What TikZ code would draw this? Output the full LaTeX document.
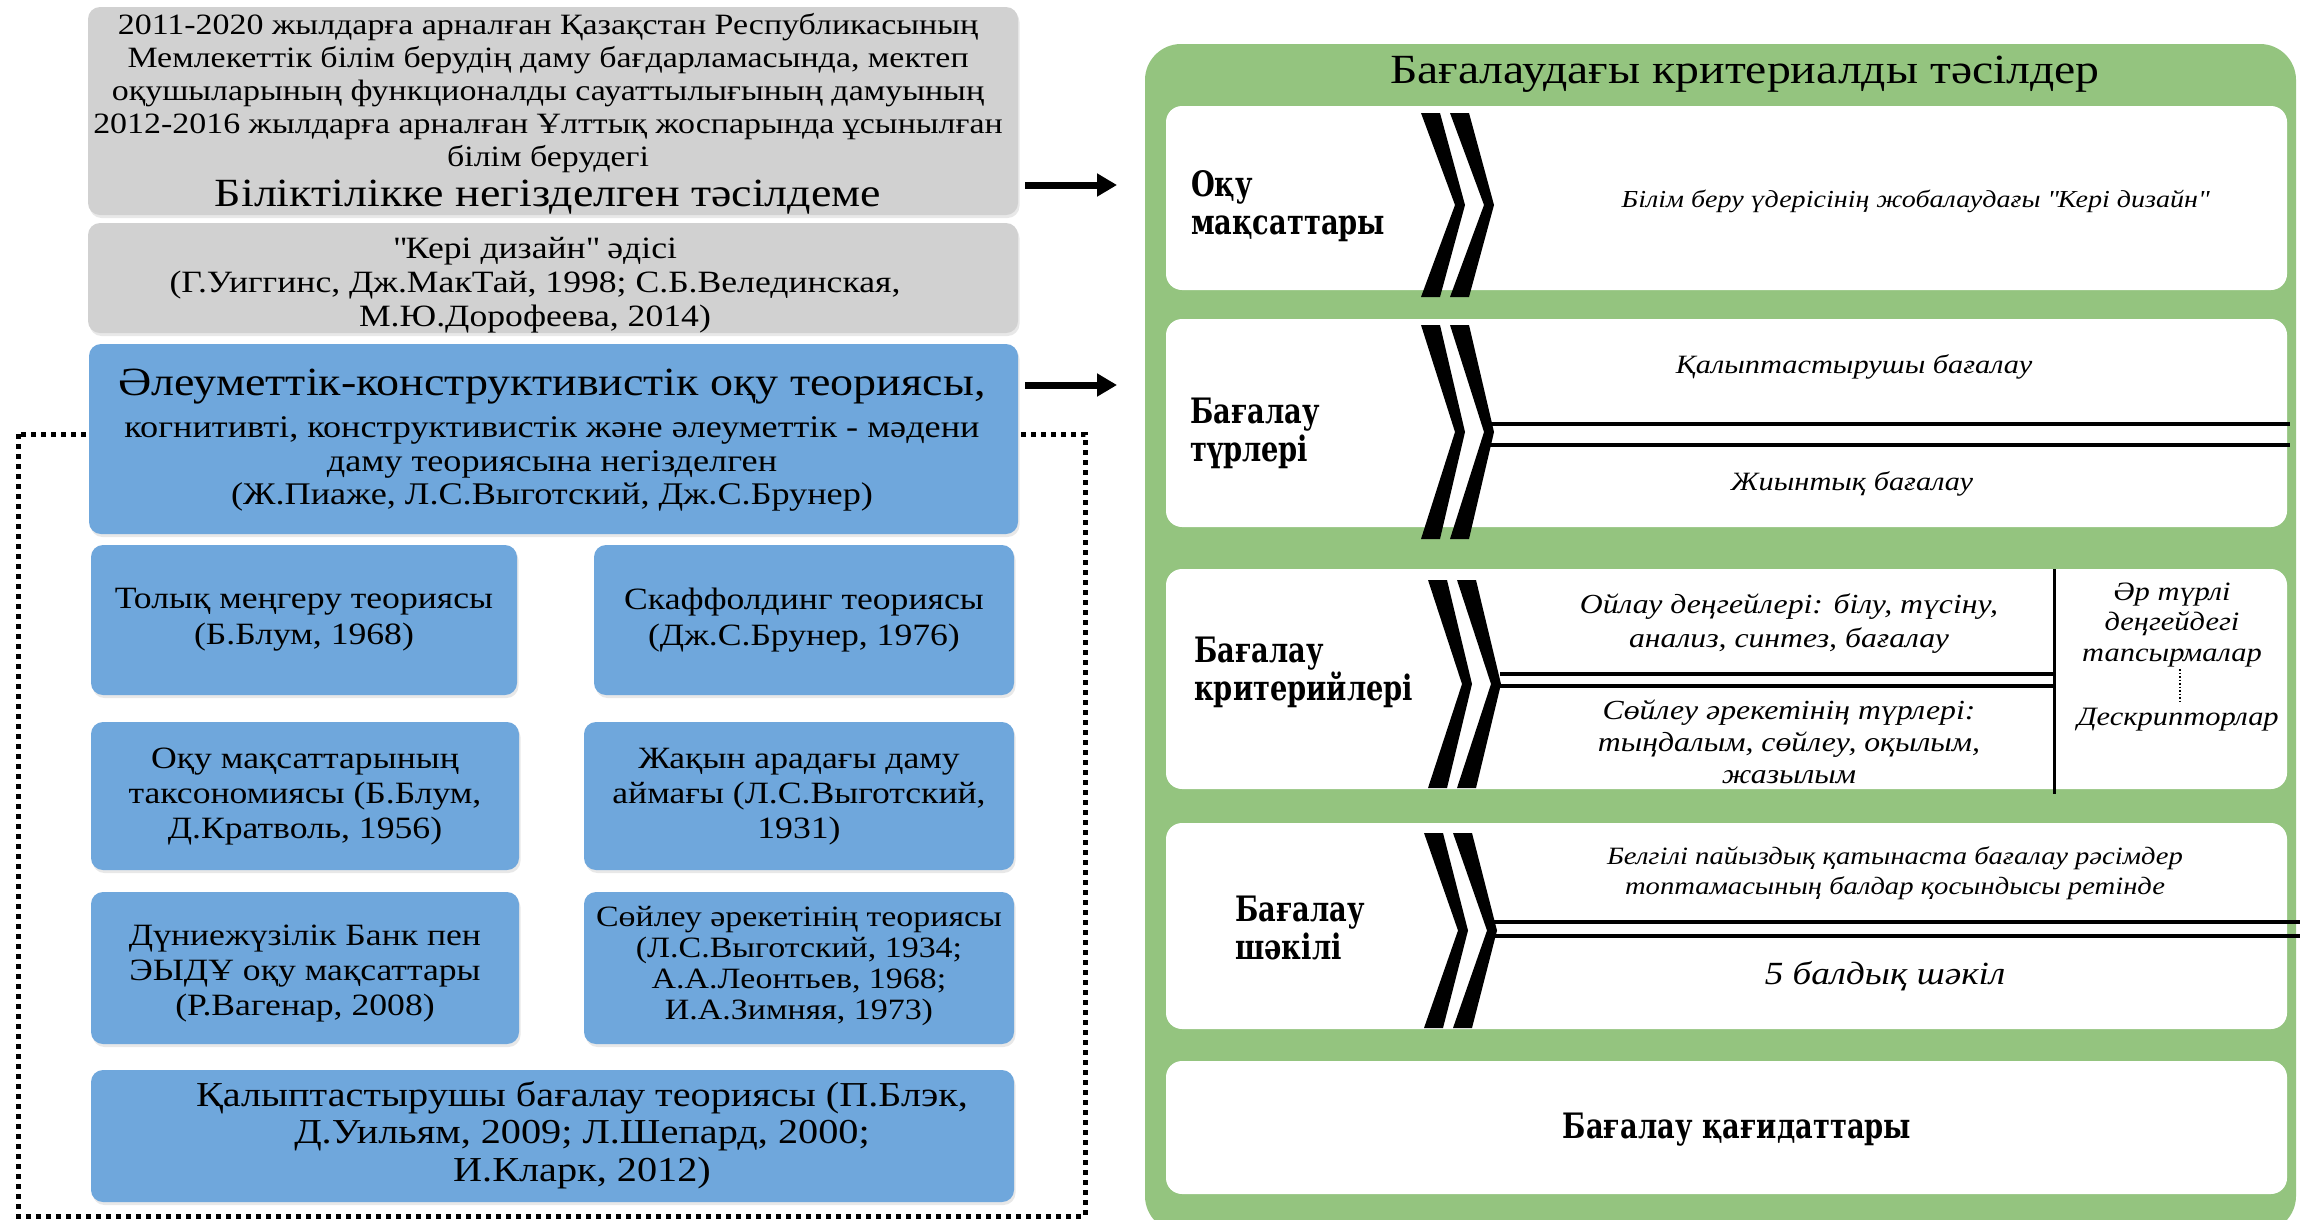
\documentclass[tikz,border=0pt]{standalone}
\usepackage{fontspec}
\setmainfont{Liberation Serif}[FakeStretch=1.15]
\newfontfamily\labfont{DejaVu Serif}[FakeStretch=0.78]
\usetikzlibrary{arrows.meta,shadows}
\definecolor{boxgray}{RGB}{209,209,209}
\definecolor{boxblue}{RGB}{111,167,220}
\definecolor{panelgreen}{RGB}{148,196,127}
\newcommand\chevron[3]{%
  \fill ({#1},{#2}) -- ({#1+19},{#2}) -- ({#1+44},{(#2+#3)/2}) -- ({#1+19},{#3}) -- ({#1},{#3}) -- ({#1+34},{(#2+#3)/2}) -- cycle;}
\begin{document}
\begin{tikzpicture}[x=1pt,y=-1pt,
  txt/.style={inner sep=0pt, align=center, text=black},
  soft/.style={drop shadow={opacity=0.18, shadow xshift=1.5pt, shadow yshift=-3pt}},
  graybox/.style={fill=boxgray, rounded corners=12pt, soft},
  bluebox/.style={fill=boxblue, rounded corners=12pt, soft},
  whitebox/.style={fill=white, rounded corners=16pt},
  lab/.style={inner sep=0pt, align=left, anchor=west, font=\labfont\bfseries\fontsize{35}{38}\selectfont},
  it/.style={inner sep=0pt, align=center, font=\itshape},
  dline/.style={line width=3.5pt},
  bigarrow/.style={line width=7pt, -{Triangle[length=20pt,width=22pt]}},
  frame/.style={line width=5pt, dash pattern=on 5pt off 5pt}]
\useasboundingbox (0,0) rectangle (2305,1219);
\fill[white] (0,0) rectangle (2305,1219);

% dotted frame (behind blue box)
\draw[frame] (18,434) rectangle (1085,1216);

% left boxes
\fill[graybox] (88,7) rectangle (1018,215);
\fill[graybox] (88,223) rectangle (1018,333);
\fill[bluebox] (89,344) rectangle (1018,534);
\fill[bluebox] (91,545) rectangle (517,695);
\fill[bluebox] (594,545) rectangle (1014,695);
\fill[bluebox] (91,722) rectangle (519,870);
\fill[bluebox] (584,722) rectangle (1014,870);
\fill[bluebox] (91,892) rectangle (519,1044);
\fill[bluebox] (584,892) rectangle (1014,1044);
\fill[bluebox] (91,1070) rectangle (1014,1202);

% left texts
\node[txt, font=\fontsize{29.5}{33}\selectfont] (t1) at (548,93) {2011-2020 жылдарға арналған Қазақстан Республикасының\\Мемлекеттік білім берудің даму бағдарламасында, мектеп\\оқушыларының функционалды сауаттылығының дамуының\\2012-2016 жылдарға арналған Ұлттық жоспарында ұсынылған\\білім берудегі};
\node[txt, font=\fontsize{40}{44}\selectfont] (t2) at (548,197) {Біліктілікке негізделген тәсілдеме};
\node[txt, font=\fontsize{31}{34}\selectfont] (t3) at (535,285) {\textquotedbl Кері дизайн\textquotedbl{} әдісі\\(Г.Уиггинс, Дж.МакТай, 1998; С.Б.Велединская,\\М.Ю.Дорофеева, 2014)};
\node[txt, font=\fontsize{40}{44}\selectfont] (t4) at (552,387) {Әлеуметтік-конструктивистік оқу теориясы,};
\node[txt, font=\fontsize{31.5}{33.5}\selectfont] (t5) at (552,464) {когнитивті, конструктивистік және әлеуметтік - мәдени\\даму теориясына негізделген\\(Ж.Пиаже, Л.С.Выготский, Дж.С.Брунер)};
\node[txt, font=\fontsize{31}{36}\selectfont] (t6) at (304,620) {Толық меңгеру теориясы\\(Б.Блум, 1968)};
\node[txt, font=\fontsize{31}{36}\selectfont] (t7) at (804,620) {Скаффолдинг теориясы\\(Дж.С.Брунер, 1976)};
\node[txt, font=\fontsize{31}{35}\selectfont] (t8) at (305,797) {Оқу мақсаттарының\\таксономиясы (Б.Блум,\\Д.Кратволь, 1956)};
\node[txt, font=\fontsize{31}{35}\selectfont] (t9) at (799,797) {Жақын арадағы даму\\аймағы (Л.С.Выготский,\\1931)};
\node[txt, font=\fontsize{31}{35}\selectfont] (t10) at (305,974) {Дүниежүзілік Банк пен\\ЭЫДҰ оқу мақсаттары\\(Р.Вагенар, 2008)};
\node[txt, font=\fontsize{29.5}{31}\selectfont] (t11) at (799,966) {Сөйлеу әрекетінің теориясы\\(Л.С.Выготский, 1934;\\А.А.Леонтьев, 1968;\\И.А.Зимняя, 1973)};
\node[txt, font=\fontsize{35}{37.5}\selectfont] (t12) at (582,1135) {Қалыптастырушы бағалау теориясы (П.Блэк,\\Д.Уильям, 2009; Л.Шепард, 2000;\\И.Кларк, 2012)};

% arrows
\coordinate (a1s) at (1025,185);
\coordinate (a1e) at (1117,185);
\coordinate (a2s) at (1025,385);
\coordinate (a2e) at (1117,385);
\draw[bigarrow] (a1s) -- (a1e);
\draw[bigarrow] (a2s) -- (a2e);

% right panel
\fill[panelgreen, rounded corners=36pt] (1145,44) rectangle (2296,1232);
\node[txt, font=\fontsize{41.5}{44}\selectfont] (title) at (1745,74) {Бағалаудағы критериалды тәсілдер};
\fill[whitebox] (1166,106) rectangle (2287,290);
\fill[whitebox] (1166,319) rectangle (2287,527);
\fill[whitebox] (1166,569) rectangle (2287,789);
\fill[whitebox] (1166,823) rectangle (2287,1029);
\fill[whitebox] (1166,1061) rectangle (2287,1194);

% chevrons
\chevron{1421}{113}{297}\chevron{1450}{113}{297}
\chevron{1421}{325}{539}\chevron{1450}{325}{539}
\chevron{1428}{580}{788}\chevron{1457}{580}{788}
\chevron{1424}{833}{1028}\chevron{1453}{833}{1028}

% row lines
\draw[dline] (1490,424) -- (2290,424);
\draw[dline] (1490,445) -- (2290,445);
\draw[dline] (1500,674) -- (2054,674);
\draw[dline] (1500,686) -- (2054,686);
\draw[line width=3pt] (2054,569) -- (2054,794);
\draw[dline] (1492,922) -- (2300,922);
\draw[dline] (1492,936) -- (2300,936);
\draw[line width=1.5pt, dotted] (2180,669) -- (2180,703);

% labels
\node[lab] (l1) at (1191,206) {Оқу\\мақсаттары};
\node[lab] (l2) at (1190,433) {Бағалау\\түрлері};
\node[lab] (l3) at (1194,672) {Бағалау\\критерийлері};
\node[lab] (l4) at (1235,928) {Бағалау\\шәкілі};
\node[lab, anchor=center] (l5) at (1737,1130) {Бағалау қағидаттары};

% italic texts
\node[it, font=\itshape\fontsize{24.4}{28}\selectfont] (r1) at (1915,201) {Білім беру үдерісінің жобалаудағы \textquotedbl Кері дизайн\textquotedbl};
\node[it, font=\itshape\fontsize{26.4}{32}\selectfont] (r2a) at (1854,367) {Қалыптастырушы бағалау};
\node[it, font=\itshape\fontsize{26.4}{32}\selectfont] (r2b) at (1852,484) {Жиынтық бағалау};
\node[it, font=\itshape\fontsize{27.6}{34}\selectfont] (r3a) at (1789,624) {Ойлау деңгейлері: білу, түсіну,\\анализ, синтез, бағалау};
\node[it, font=\itshape\fontsize{27.6}{32}\selectfont] (r3b) at (1789,742) {Сөйлеу әрекетінің түрлері:\\тыңдалым, сөйлеу, оқылым,\\жазылым};
\node[it, font=\itshape\fontsize{26.5}{30.5}\selectfont] (r3c) at (2172,625) {Әр түрлі\\деңгейдегі\\тапсырмалар};
\node[it, font=\itshape\fontsize{26.5}{30}\selectfont] (r3d) at (2178,720) {Дескрипторлар};
\node[it, font=\itshape\fontsize{24.9}{30}\selectfont] (r4a) at (1895,873) {Белгілі пайыздық қатынаста бағалау рәсімдер\\топтамасының балдар қосындысы ретінде};
\node[it, font=\itshape\fontsize{32.3}{36}\selectfont] (r4b) at (1885,976) {5 балдық шәкіл};
\end{tikzpicture}
\end{document}
